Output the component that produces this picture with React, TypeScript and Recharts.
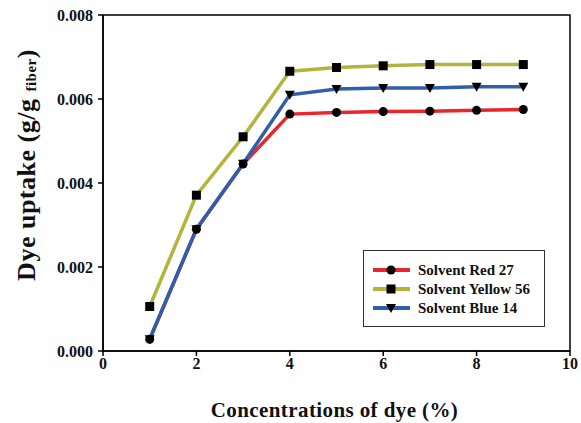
import { LineChart, Line, XAxis, YAxis, ReferenceArea } from "recharts";

const concentrations = [1, 2, 3, 4, 5, 6, 7, 8, 9];
const redUptake = [0.00028, 0.0029, 0.00445, 0.00564, 0.00568, 0.0057, 0.00571, 0.00573, 0.00575];
const yellowUptake = [0.00106, 0.00371, 0.0051, 0.00666, 0.00675, 0.00679, 0.00682, 0.00682, 0.00682];
const blueUptake = [0.00028, 0.0029, 0.00446, 0.0061, 0.00624, 0.00626, 0.00626, 0.00629, 0.00629];
const xTicks = [0, 2, 4, 6, 8, 10];
const yTicks = [0, 0.002, 0.004, 0.006, 0.008];

const rows = concentrations.map((c, i) => ({
  conc: c,
  red: redUptake[i],
  yellow: yellowUptake[i],
  blue: blueUptake[i],
}));

const font = "Liberation Serif, DejaVu Serif, serif";

const series = [
  { key: "red", name: "Solvent Red 27", color: "#e8262d", shape: "circle" },
  { key: "yellow", name: "Solvent Yellow 56", color: "#b3b43c", shape: "square" },
  { key: "blue", name: "Solvent Blue 14", color: "#2f5eab", shape: "triangle" },
];

function Marker({ cx, cy, shape }: { cx: number; cy: number; shape: string }) {
  if (shape === "circle") return <circle cx={cx} cy={cy} r={4.5} fill="#000" />;
  if (shape === "square")
    return <rect x={cx - 4.5} y={cy - 4.5} width={9} height={9} fill="#000" />;
  return (
    <polygon
      points={`${cx - 5},${cy - 4} ${cx + 5},${cy - 4} ${cx},${cy + 5}`}
      fill="#000"
    />
  );
}

function LegendBox() {
  return (
    <div
      style={{
        position: "absolute",
        left: 363,
        top: 250,
        width: 182,
        height: 77,
        border: "1.5px solid #333",
        background: "#fff",
        boxSizing: "border-box",
      }}
    >
      <svg width={179} height={74} style={{ display: "block" }}>
        {series.map((s, i) => {
          const y = 19 + i * 19;
          return (
            <g key={s.key}>
              <line x1={9} x2={46} y1={y} y2={y} stroke={s.color} strokeWidth={4} />
              <Marker cx={27} cy={y} shape={s.shape} />
              <text
                x={54}
                y={y + 5}
                style={{ fontFamily: font, fontWeight: "bold", fontSize: 15 }}
                fill="#111"
              >
                {s.name}
              </text>
            </g>
          );
        })}
      </svg>
    </div>
  );
}

function YLabel() {
  const cx = 26;
  const cy = 165;
  return (
    <text
      x={cx}
      y={cy}
      transform={`rotate(-90, ${cx}, ${cy})`}
      textAnchor="middle"
      dominantBaseline="central"
      style={{ fontFamily: font, fontWeight: "bold", fontSize: 26, letterSpacing: 0.5 }}
      fill="#111"
    >
      Dye uptake (g/g{" "}
      <tspan style={{ fontSize: 15 }} dy={5}>
        fiber
      </tspan>
      <tspan dy={-5}>)</tspan>
    </text>
  );
}

const tickStyle = { fill: "#111", fontFamily: font, fontWeight: "bold", fontSize: 16 };

export default function App() {
  return (
    <div style={{ position: "absolute", left: 0, top: 0, width: 581, height: 423, background: "#fff" }}>
      <LineChart
        width={581}
        height={423}
        data={rows}
        margin={{ top: 15, right: 11, bottom: 0, left: 0 }}
      >
        <XAxis
          dataKey="conc"
          type="number"
          domain={[0, 10]}
          ticks={xTicks}
          height={72}
          stroke="#000"
          strokeWidth={1.5}
          tickSize={5}
          tick={tickStyle}
          label={{
            value: "Concentrations of dye (%)",
            position: "insideBottom",
            offset: 6,
            dx: -2,
            fill: "#111",
            style: { fontFamily: font, fontWeight: "bold", fontSize: 21, letterSpacing: 0.4 },
          }}
        />
        <YAxis
          type="number"
          domain={[0, 0.008]}
          ticks={yTicks}
          width={103}
          stroke="#000"
          strokeWidth={1.5}
          tickSize={5}
          tickMargin={5}
          tickFormatter={(v: number) => v.toFixed(3)}
          tick={tickStyle}
          label={<YLabel />}
        />
        <ReferenceArea
          x1={0}
          x2={10}
          y1={0}
          y2={0.008}
          fill="none"
          stroke="#000"
          strokeWidth={1.5}
          ifOverflow="visible"
        />
        {series.map((s) => (
          <Line
            key={s.key}
            dataKey={s.key}
            name={s.name}
            stroke={s.color}
            strokeWidth={3.5}
            isAnimationActive={false}
            dot={(p: any) => (
              <Marker key={`${s.key}-${p.index}`} cx={p.cx} cy={p.cy} shape={s.shape} />
            )}
            activeDot={false}
          />
        ))}
      </LineChart>
      <LegendBox />
    </div>
  );
}
